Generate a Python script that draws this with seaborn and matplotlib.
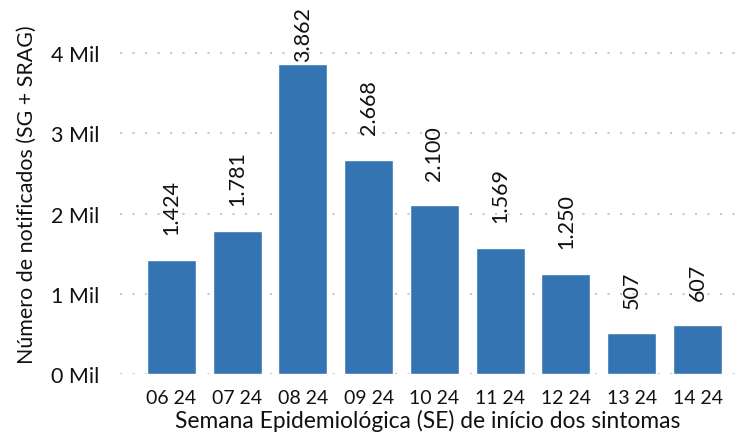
import matplotlib
matplotlib.use("Agg")
import matplotlib.pyplot as plt
import seaborn as sns
import pandas as pd

# Data
semanas = ['06 24', '07 24', '08 24', '09 24', '10 24', '11 24', '12 24', '13 24', '14 24']
notificados = [1424, 1781, 3862, 2668, 2100, 1569, 1250, 507, 607]
rotulos = ['1.424', '1.781', '3.862', '2.668', '2.100', '1.569', '1.250', '507', '607']
yticks = [0, 1000, 2000, 3000, 4000]
ytick_labels = ['0 Mil', '1 Mil', '2 Mil', '3 Mil', '4 Mil']

BAR_COLOR = '#3574b3'
GRID_COLOR = '#c8c8c8'
TEXT_COLOR = '#111111'

sns.set_theme(style='white')
plt.rcParams['font.family'] = ['Lato', 'DejaVu Sans']

df = pd.DataFrame({'semana': semanas, 'n': notificados})

fig = plt.figure(figsize=(7.39, 4.35), dpi=100)
ax = fig.add_axes([120 / 739, 1 - 375 / 435, 615 / 739, (375 - 15) / 435])

sns.barplot(data=df, x='semana', y='n', color=BAR_COLOR, saturation=1,
            width=0.745, ax=ax, zorder=2)

ax.set_xlim(-0.78, len(semanas) - 1 + 0.57)
ax.set_ylim(0, 4486)
ax.set_yticks(yticks)
ax.set_yticklabels(ytick_labels)

ax.yaxis.grid(True, linestyle=(0, (1, 5)), color=GRID_COLOR, linewidth=1.5, zorder=0)
ax.xaxis.grid(False)
for s in ax.spines.values():
    s.set_visible(False)
ax.tick_params(axis='both', length=0, colors=TEXT_COLOR)
ax.tick_params(axis='y', labelsize=15.5, pad=15)
ax.tick_params(axis='x', labelsize=14, pad=11)

ax.set_xlabel('Semana Epidemiológica (SE) de início dos sintomas',
              fontsize=16.4, color=TEXT_COLOR, labelpad=2)
ax.set_ylabel('Número de notificados (SG + SRAG)', fontsize=15.4,
              color=TEXT_COLOR, labelpad=10)

# value labels, rotated, above each bar (kept inside the plot area)
for i, (v, lab) in enumerate(zip(notificados, rotulos)):
    y = min(v + 320, 3900)
    ax.text(i, y, lab, rotation=90, ha='center', va='bottom',
            fontsize=15.5, color=TEXT_COLOR, zorder=3)

fig.savefig('out.png', dpi=100, facecolor='white')
